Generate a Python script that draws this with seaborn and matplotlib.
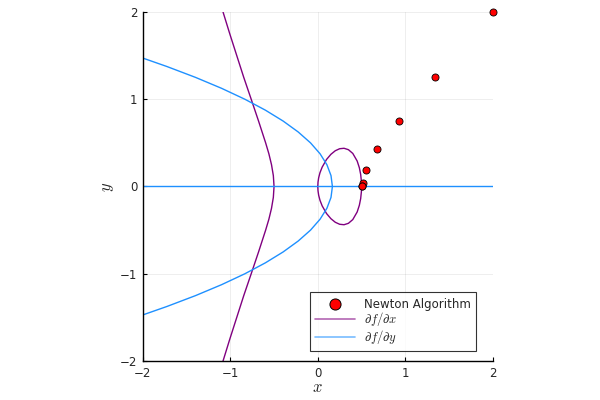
import numpy as np
import pandas as pd
import seaborn as sns
import matplotlib.pyplot as plt
from matplotlib.lines import Line2D

# Newton iterates
newton_x = [2.0, 1.340, 0.929, 0.674, 0.555, 0.521, 0.503, 0.500]
newton_y = [2.0, 1.252, 0.751, 0.427, 0.190, 0.045, 0.003, 0.0]

# df/dx = 0 : outer branch (x as function of y)
dfx_branch_y = [-2, -1.75, -1.5, -1.25, -1, -0.75, -0.5, -0.375, -0.25, -0.125, 0,
                0.125, 0.25, 0.375, 0.5, 0.75, 1, 1.25, 1.5, 1.75, 2]
dfx_branch_x = [-1.083, -1.006, -0.926, -0.846, -0.761, -0.677, -0.596, -0.559, -0.529, -0.508, -0.5,
                -0.508, -0.529, -0.559, -0.596, -0.677, -0.761, -0.846, -0.926, -1.006, -1.083]

# df/dx = 0 : closed loop (upper half)
loop_x = [0, 0.0025, 0.01, 0.025, 0.05, 0.1, 0.15, 0.2, 0.25, 0.3, 0.35, 0.4, 0.45, 0.475, 0.49, 0.498, 0.5]
loop_y = [0, 0.050, 0.100, 0.158, 0.222, 0.310, 0.369, 0.410, 0.433, 0.438, 0.422, 0.379, 0.292, 0.215, 0.139, 0.063, 0]

# df/dy = 0 : parabola and the x axis
dfy_par_y = [-1.472, -1.375, -1.25, -1.125, -1, -0.875, -0.75, -0.625, -0.5, -0.375, -0.25, -0.125, 0,
             0.125, 0.25, 0.375, 0.5, 0.625, 0.75, 0.875, 1, 1.125, 1.25, 1.375, 1.472]
dfy_par_x = [-2.0, -1.724, -1.396, -1.099, -0.833, -0.599, -0.396, -0.224, -0.083, 0.026, 0.104, 0.151, 0.167,
             0.151, 0.104, 0.026, -0.083, -0.224, -0.396, -0.599, -0.833, -1.099, -1.396, -1.724, -2.0]
dfy_line_x = [-2, 2]
dfy_line_y = [0, 0]

purple = "#800080"
blue = "#1e90ff"

sns.set_style("white")
plt.rcParams["font.family"] = ["DejaVu Sans"]
plt.rcParams["mathtext.fontset"] = "cm"

fig = plt.figure(figsize=(6, 4), dpi=100)
ax = fig.add_axes([0.238, 0.0975, 0.5833, 0.8725])

full_loop = pd.DataFrame({"x": loop_x + loop_x[::-1][1:], "y": loop_y + [-v for v in loop_y[::-1][1:]]})
branch = pd.DataFrame({"x": dfx_branch_x, "y": dfx_branch_y})
par = pd.DataFrame({"x": dfy_par_x, "y": dfy_par_y})
line0 = pd.DataFrame({"x": dfy_line_x, "y": dfy_line_y})

for d in (branch, full_loop):
    sns.lineplot(data=d, x="x", y="y", sort=False, estimator=None, color=purple, lw=1.0, ax=ax)
for d in (par, line0):
    sns.lineplot(data=d, x="x", y="y", sort=False, estimator=None, color=blue, lw=1.0, ax=ax)

sns.scatterplot(x=newton_x, y=newton_y, color="red", edgecolor="black", linewidth=0.6,
                s=26, zorder=5, clip_on=False, ax=ax)

ax.set_xlim(-2, 2)
ax.set_ylim(-2, 2)
ax.set_xticks([-2, -1, 0, 1, 2])
ax.set_yticks([-2, -1, 0, 1, 2])
ax.set_xticklabels(["\u22122", "\u22121", "0", "1", "2"])
ax.set_yticklabels(["\u22122", "\u22121", "0", "1", "2"])
ax.tick_params(direction="in", length=3, width=0.8, labelsize=8.5, color="black",
               bottom=True, left=True, pad=4)
ax.grid(True, color="black", alpha=0.08, lw=0.6)
for s in ("top", "right"):
    ax.spines[s].set_visible(False)
for s in ("left", "bottom"):
    ax.spines[s].set_color("black")
    ax.spines[s].set_linewidth(1.0)

ax.set_xlabel("$x$", fontsize=12, labelpad=-1)
ax.set_ylabel("$y$", fontsize=12, labelpad=3)

handles = [
    Line2D([], [], marker="o", ls="", markerfacecolor="red", markeredgecolor="black",
           markeredgewidth=0.7, markersize=8),
    Line2D([], [], color=purple, lw=1.2, alpha=0.6),
    Line2D([], [], color=blue, lw=1.2, alpha=0.6),
]
labels = ["Newton Algorithm", r"$\partial f/\partial x$", r"$\partial f/\partial y$"]
leg = ax.legend(handles, labels, loc="lower right", bbox_to_anchor=(0.953, 0.029),
                borderaxespad=0, fontsize=8.5, frameon=True, fancybox=False, edgecolor="black",
                borderpad=0.45, labelspacing=-0.05, handlelength=3.4, handletextpad=0.75,
                handleheight=0.5)
leg.get_frame().set_linewidth(0.8)
for t in leg.get_texts()[1:]:
    t.set_fontsize(9.2)

fig.savefig("out.png", dpi=100)
